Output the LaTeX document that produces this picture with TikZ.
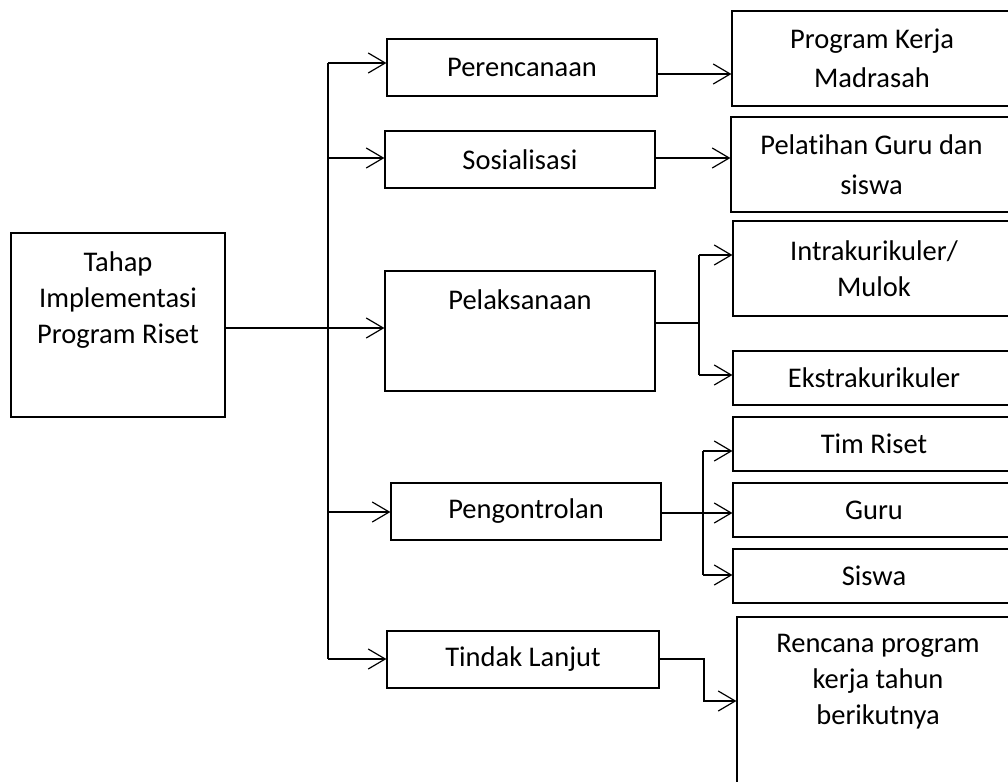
\documentclass[tikz,border=0pt]{standalone}
\usepackage{fontspec}
\setmainfont{Carlito}[Ligatures={NoCommon,NoContextual},RawFeature={-liga;-clig}]
\usetikzlibrary{arrows.meta}
\tikzset{
	box/.style={draw, line width=1.2pt, inner sep=0pt, align=center, font=\fontsize{28.5}{36}\selectfont},
	txt/.style={inner sep=0pt, align=center, font=\fontsize{28.5}{36}\selectfont},
	ln/.style={line width=1.2pt},
	arr/.style={ln, -{Straight Barb[length=17pt,width=20pt,line width=1.2pt]}}
}

\begin{document}
\begin{tikzpicture}[x=1pt,y=-1pt]
	\useasboundingbox (0,0) rectangle (1008,781);
	
	\node[box, minimum width=214, minimum height=184] (main) at (118,325) {};
	\node[txt] (maintxt) at (118,300) {Tahap\\Implementasi\\Program Riset};
	
	\node[box, minimum width=270, minimum height=57] (per) at (522,67.5) {Perencanaan};
	\node[box, minimum width=270, minimum height=57] (sos) at (520,159.5) {Sosialisasi};
	\node[box, minimum width=270, minimum height=120] (pel) at (520,331) {};
	\node[txt] (peltxt) at (520,300) {Pelaksanaan};
	\node[box, minimum width=270, minimum height=57] (pen) at (526,511.5) {Pengontrolan};
	\node[box, minimum width=272, minimum height=57] (tin) at (523,659.5) {Tindak Lanjut};
	
	\node[box, minimum width=280, minimum height=95, font=\fontsize{28.5}{39}\selectfont] (prog) at (872,58.5) {Program Kerja\\Madrasah};
	\node[box, minimum width=281, minimum height=95, font=\fontsize{28.5}{40}\selectfont] (lat) at (871.5,164.5) {Pelatihan Guru dan\\siswa};
	\node[box, minimum width=282, minimum height=95] (intra) at (874,268.5) {Intrakurikuler/\\Mulok};
	\node[box, minimum width=282, minimum height=54] (ekstra) at (874,378) {Ekstrakurikuler};
	\node[box, minimum width=282, minimum height=54] (tim) at (874,444) {Tim Riset};
	\node[box, minimum width=282, minimum height=54] (guru) at (874,510) {Guru};
	\node[box, minimum width=282, minimum height=54] (siswa) at (874,576) {Siswa};
	\node[box, minimum width=282, minimum height=183] (renc) at (878,708.5) {};
	\node[txt] (renctxt) at (878,682) {Rencana program\\kerja tahun\\berikutnya};
	
	\coordinate (a1) at (328,63);
	\coordinate (a2) at (328,158);
	\coordinate (a3) at (328,328);
	\coordinate (a4) at (328,512);
	\coordinate (a5) at (328,659);
	\draw[ln] (a1) -- (a5);
	\draw[ln] (main.east |- a3) -- (a3);
	\draw[arr] (a1) -- (a1 -| per.west);
	\draw[arr] (a2) -- (a2 -| sos.west);
	\draw[arr] (a3) -- (a3 -| pel.west);
	\draw[arr] (a4) -- (a4 -| pen.west);
	\draw[arr] (a5) -- (a5 -| tin.west);
	
	\coordinate (p1) at (0,74);
	\coordinate (p2) at (0,158);
	\draw[arr] (per.east |- p1) -- (prog.west |- p1);
	\draw[arr] (sos.east |- p2) -- (lat.west |- p2);
	
	\coordinate (b0) at (699,323);
	\coordinate (b1) at (699,255);
	\coordinate (b2) at (699,375);
	\draw[ln] (pel.east |- b0) -- (b0);
	\draw[ln] (b1) -- (b2);
	\draw[arr] (b1) -- (b1 -| intra.west);
	\draw[arr] (b2) -- (b2 -| ekstra.west);
	
	\coordinate (c0) at (703,513);
	\coordinate (c1) at (703,451);
	\coordinate (c2) at (703,575);
	\draw[ln] (c1) -- (c2);
	\draw[arr] (pen.east |- c0) -- (c0 -| guru.west);
	\draw[arr] (c1) -- (c1 -| tim.west);
	\draw[arr] (c2) -- (c2 -| siswa.west);
	
	\coordinate (d0) at (704,659);
	\coordinate (d1) at (704,701);
	\draw[arr] (tin.east |- d0) -- (d0) -- (d1) -- (d1 -| renc.west);
\end{tikzpicture}
\end{document}
